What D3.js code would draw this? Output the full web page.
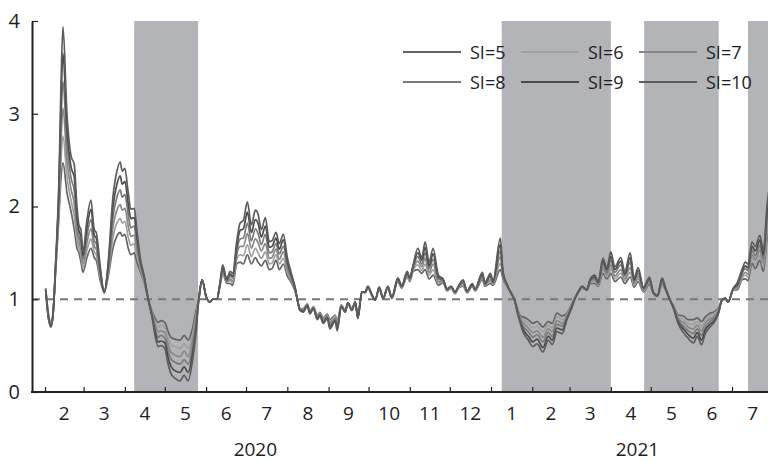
<!DOCTYPE html>
<html><head><meta charset="utf-8">
<script src="https://cdn.jsdelivr.net/npm/d3@7"></script>
<style>
body{margin:0;background:#fff}
svg text{font-family:"Open Sans",sans-serif;fill:#1e1e1e}
</style>
</head><body>
<svg id="chart" width="768" height="462"></svg>
<script>
// ---------------- data ----------------
const startDate = "2020-02-01";           // day 0 of dayOffset
const dayOffset = [
 0.5,2.5,4.5,6,8,10.5,12,13.5,16.5,19.5,
 22,24,25.5,27,28.5,31.5,34.5,37,38.5,41.5,
 44.5,47.5,51,54,56.5,58,60,62.5,64.5,67,
 69,71.5,74.5,77.5,80.5,82.5,85,87,90,92.5,
 94.5,97.5,101.5,104.5,107.5,110.5,113.5,115.5,118,121,
 124,126,129,131.5,133.5,136.5,139,141,144,146.5,
 149,152,155,158,160,162.5,165.5,168.5,170.5,173.5,
 176,179,182,185,188,190,191.5,194,197,199,
 201.5,204.5,206.5,209,212,214,218,219.5,222.5,225.5,
 227.5,230.5,233,235,238,240.5,242.5,245.5,248,251,
 254,257.5,260.5,265,268,272,274,276.5,280,283,
 285.5,288.5,291.5,295.5,299,302,305,308,310.5,314,
 317,321,323,328.5,330.5,334.5,336.5,342,344,347,
 351,352.5,354.5,357,359,363,366.5,369.5,374,378,
 381,384.5,388.5,392,396,398,400.5,403.5,407,409.5,
 413,415.5,419,422,425,428,432.5,435.5,439.5,442.5,
 445.5,449.5,454,457,460,463.5,466,469.5,472,475.5,
 479.5,483,487,490,493,496,499.5,502,505.5,508.5,
 511,513,517,520,523.5,526,528,531,533.5,537,539.5,542.5,544
];
const si5 = [
 1.12,0.85,0.75,0.85,1.30,1.90,2.30,2.47,2.15,1.95,
 1.75,1.55,1.50,1.40,1.29,1.45,1.55,1.45,1.42,1.20,
 1.08,1.25,1.55,1.68,1.72,1.68,1.70,1.55,1.48,1.50,
 1.40,1.30,1.18,1.00,0.87,0.80,0.75,0.77,0.75,0.65,
 0.59,0.57,0.56,0.61,0.56,0.67,0.88,1.00,1.21,1.03,
 0.97,1.00,1.00,1.15,1.28,1.17,1.17,1.15,1.38,1.40,
 1.38,1.48,1.38,1.45,1.40,1.36,1.42,1.32,1.33,1.42,
 1.32,1.38,1.25,1.18,1.08,0.97,0.90,0.90,0.95,0.87,
 0.92,0.83,0.86,0.80,0.84,0.78,0.83,0.76,0.94,0.88,
 0.96,0.90,0.97,0.82,1.08,1.07,1.12,1.04,0.99,1.11,
 1.01,1.12,1.01,1.19,1.12,1.24,1.19,1.30,1.32,1.28,
 1.32,1.22,1.26,1.15,1.18,1.09,1.12,1.06,1.12,1.14,
 1.07,1.14,1.09,1.21,1.14,1.17,1.15,1.32,1.22,1.14,
 1.05,1.00,0.92,0.82,0.81,0.78,0.74,0.76,0.70,0.76,
 0.74,0.85,0.82,0.85,0.96,1.01,1.07,1.12,1.10,1.17,
 1.17,1.14,1.28,1.22,1.28,1.19,1.24,1.17,1.24,1.13,
 1.19,1.08,1.16,1.06,1.03,1.16,1.10,0.99,0.93,0.83,
 0.82,0.78,0.78,0.80,0.76,0.81,0.85,0.86,0.90,0.99,
 1.01,0.97,1.10,1.10,1.21,1.22,1.20,1.39,1.33,1.42,1.30,1.67,1.78
];
const si6 = [
 1.12,0.84,0.74,0.84,1.32,1.98,2.50,2.76,2.32,2.07,
 1.89,1.64,1.56,1.47,1.34,1.53,1.65,1.51,1.48,1.23,
 1.08,1.28,1.66,1.82,1.87,1.82,1.84,1.67,1.58,1.60,
 1.47,1.33,1.19,1.00,0.86,0.76,0.70,0.72,0.69,0.58,
 0.51,0.49,0.47,0.52,0.47,0.60,0.83,1.00,1.21,1.03,
 0.97,1.00,1.00,1.16,1.30,1.18,1.20,1.18,1.43,1.48,
 1.47,1.59,1.46,1.55,1.50,1.44,1.51,1.38,1.39,1.48,
 1.38,1.44,1.29,1.20,1.09,0.97,0.90,0.89,0.95,0.86,
 0.92,0.82,0.85,0.79,0.83,0.76,0.82,0.74,0.94,0.88,
 0.96,0.90,0.97,0.81,1.08,1.07,1.12,1.04,0.99,1.11,
 1.01,1.12,1.01,1.20,1.13,1.25,1.20,1.31,1.37,1.31,
 1.38,1.26,1.32,1.17,1.19,1.09,1.12,1.06,1.12,1.15,
 1.07,1.15,1.09,1.23,1.15,1.19,1.16,1.39,1.24,1.14,
 1.05,1.00,0.91,0.80,0.78,0.74,0.69,0.71,0.65,0.72,
 0.69,0.81,0.78,0.84,0.95,1.01,1.07,1.12,1.10,1.18,
 1.19,1.15,1.31,1.24,1.33,1.22,1.28,1.20,1.29,1.15,
 1.22,1.09,1.18,1.06,1.03,1.17,1.11,0.99,0.92,0.81,
 0.78,0.74,0.73,0.76,0.71,0.77,0.82,0.84,0.89,0.99,
 1.01,0.97,1.10,1.12,1.23,1.26,1.24,1.44,1.38,1.47,1.35,1.74,1.86
];
const si7 = [
 1.11,0.83,0.73,0.84,1.34,2.06,2.70,3.06,2.49,2.19,
 2.03,1.73,1.62,1.54,1.38,1.61,1.76,1.57,1.54,1.26,
 1.08,1.31,1.77,1.96,2.02,1.96,1.98,1.79,1.68,1.69,
 1.54,1.36,1.21,1.00,0.84,0.73,0.65,0.66,0.64,0.51,
 0.43,0.40,0.38,0.44,0.38,0.53,0.79,1.00,1.21,1.03,
 0.97,1.00,1.00,1.16,1.32,1.19,1.22,1.20,1.48,1.57,
 1.57,1.71,1.55,1.65,1.61,1.52,1.60,1.44,1.45,1.54,
 1.43,1.51,1.33,1.22,1.10,0.97,0.89,0.88,0.94,0.86,
 0.91,0.81,0.84,0.78,0.82,0.74,0.80,0.72,0.93,0.87,
 0.96,0.89,0.97,0.81,1.08,1.07,1.13,1.04,0.99,1.12,
 1.01,1.13,1.01,1.21,1.13,1.26,1.21,1.33,1.41,1.35,
 1.44,1.29,1.38,1.19,1.20,1.10,1.13,1.07,1.13,1.17,
 1.08,1.15,1.10,1.24,1.16,1.21,1.17,1.46,1.25,1.15,
 1.05,1.00,0.90,0.79,0.75,0.69,0.64,0.66,0.59,0.68,
 0.65,0.77,0.74,0.82,0.94,1.01,1.07,1.13,1.10,1.19,
 1.21,1.16,1.34,1.27,1.37,1.25,1.32,1.22,1.34,1.17,
 1.25,1.10,1.19,1.06,1.03,1.19,1.11,0.99,0.92,0.79,
 0.75,0.70,0.68,0.72,0.66,0.74,0.79,0.81,0.87,0.99,
 1.01,0.97,1.11,1.13,1.25,1.29,1.27,1.48,1.43,1.53,1.39,1.82,1.95
];
const si8 = [
 1.11,0.82,0.72,0.83,1.36,2.14,2.90,3.35,2.66,2.31,
 2.17,1.82,1.68,1.61,1.43,1.69,1.86,1.63,1.60,1.29,
 1.07,1.34,1.88,2.10,2.18,2.10,2.13,1.91,1.77,1.79,
 1.61,1.39,1.22,1.00,0.83,0.69,0.59,0.61,0.58,0.44,
 0.36,0.32,0.30,0.35,0.30,0.45,0.74,1.00,1.21,1.03,
 0.97,1.00,1.00,1.17,1.33,1.20,1.25,1.23,1.52,1.65,
 1.66,1.82,1.63,1.76,1.71,1.59,1.70,1.50,1.51,1.60,
 1.49,1.57,1.37,1.24,1.10,0.96,0.89,0.88,0.94,0.85,
 0.91,0.80,0.84,0.76,0.81,0.72,0.79,0.70,0.93,0.87,
 0.96,0.89,0.97,0.80,1.08,1.08,1.13,1.05,0.99,1.12,
 1.01,1.13,1.02,1.21,1.14,1.28,1.22,1.34,1.46,1.38,
 1.50,1.33,1.43,1.22,1.20,1.10,1.13,1.07,1.13,1.18,
 1.08,1.16,1.10,1.26,1.16,1.24,1.18,1.52,1.27,1.15,
 1.04,1.00,0.89,0.77,0.71,0.65,0.59,0.62,0.54,0.64,
 0.60,0.73,0.71,0.81,0.94,1.01,1.08,1.13,1.10,1.20,
 1.22,1.17,1.38,1.29,1.42,1.29,1.37,1.25,1.40,1.19,
 1.28,1.11,1.21,1.07,1.04,1.20,1.12,0.99,0.91,0.78,
 0.71,0.66,0.63,0.68,0.61,0.70,0.76,0.79,0.86,0.99,
 1.01,0.97,1.11,1.15,1.28,1.33,1.31,1.53,1.47,1.58,1.44,1.89,2.03
];
const si9 = [
 1.10,0.81,0.71,0.83,1.38,2.22,3.10,3.65,2.83,2.43,
 2.31,1.91,1.74,1.68,1.47,1.77,1.97,1.69,1.66,1.32,
 1.07,1.37,1.99,2.24,2.33,2.24,2.27,2.03,1.87,1.88,
 1.68,1.42,1.24,1.00,0.81,0.66,0.54,0.55,0.53,0.37,
 0.28,0.23,0.21,0.27,0.21,0.38,0.70,1.00,1.21,1.03,
 0.97,1.00,1.00,1.17,1.35,1.21,1.27,1.25,1.57,1.74,
 1.76,1.94,1.72,1.86,1.82,1.67,1.79,1.56,1.57,1.66,
 1.54,1.64,1.41,1.26,1.11,0.96,0.88,0.87,0.93,0.85,
 0.90,0.79,0.83,0.75,0.80,0.70,0.77,0.68,0.92,0.86,
 0.96,0.88,0.97,0.80,1.08,1.08,1.14,1.05,0.99,1.13,
 1.01,1.14,1.02,1.22,1.14,1.29,1.23,1.36,1.50,1.42,
 1.56,1.36,1.49,1.24,1.21,1.11,1.14,1.08,1.14,1.20,
 1.09,1.16,1.11,1.27,1.17,1.26,1.19,1.59,1.28,1.16,
 1.04,1.00,0.88,0.76,0.68,0.60,0.54,0.57,0.48,0.60,
 0.56,0.69,0.67,0.79,0.93,1.01,1.08,1.14,1.10,1.21,
 1.24,1.18,1.41,1.32,1.46,1.32,1.41,1.27,1.45,1.21,
 1.31,1.12,1.22,1.07,1.04,1.22,1.12,0.99,0.91,0.76,
 0.68,0.62,0.58,0.64,0.56,0.67,0.73,0.76,0.84,0.99,
 1.01,0.97,1.12,1.16,1.30,1.36,1.34,1.57,1.52,1.64,1.48,1.97,2.12
];
const si10 = [
 1.10,0.80,0.70,0.82,1.40,2.30,3.30,3.94,3.00,2.55,
 2.45,2.00,1.80,1.75,1.52,1.85,2.07,1.75,1.72,1.35,
 1.07,1.40,2.10,2.38,2.48,2.38,2.41,2.15,1.97,1.98,
 1.75,1.45,1.25,1.00,0.80,0.62,0.49,0.50,0.47,0.30,
 0.20,0.15,0.12,0.18,0.12,0.31,0.65,1.00,1.21,1.03,
 0.97,1.00,1.00,1.18,1.37,1.22,1.30,1.28,1.62,1.82,
 1.85,2.05,1.80,1.96,1.92,1.75,1.88,1.62,1.63,1.72,
 1.60,1.70,1.45,1.28,1.12,0.96,0.88,0.86,0.93,0.84,
 0.90,0.78,0.82,0.74,0.79,0.68,0.76,0.66,0.92,0.86,
 0.96,0.88,0.97,0.79,1.08,1.08,1.14,1.05,0.99,1.13,
 1.01,1.14,1.02,1.23,1.15,1.30,1.24,1.37,1.55,1.45,
 1.62,1.40,1.55,1.26,1.22,1.11,1.14,1.08,1.14,1.21,
 1.09,1.17,1.11,1.29,1.18,1.28,1.20,1.66,1.30,1.16,
 1.04,1.00,0.87,0.74,0.65,0.56,0.49,0.52,0.43,0.56,
 0.51,0.65,0.63,0.78,0.92,1.01,1.08,1.14,1.10,1.22,
 1.26,1.19,1.44,1.34,1.51,1.35,1.45,1.30,1.50,1.23,
 1.34,1.13,1.24,1.07,1.04,1.23,1.13,0.99,0.90,0.74,
 0.64,0.58,0.53,0.60,0.51,0.63,0.70,0.74,0.83,0.99,
 1.01,0.97,1.12,1.18,1.32,1.40,1.38,1.62,1.57,1.69,1.53,2.04,2.20
];
const seriesNames = ["SI=5","SI=6","SI=7","SI=8","SI=9","SI=10"];
const seriesColors = ["#636363","#a0a0a0","#888888","#7a7a7a","#4b4b4b","#5c5c5c"];
const monthStarts = ["2020-02-01","2020-03-01","2020-04-01","2020-05-01","2020-06-01","2020-07-01",
  "2020-08-01","2020-09-01","2020-10-01","2020-11-01","2020-12-01","2021-01-01",
  "2021-02-01","2021-03-01","2021-04-01","2021-05-01","2021-06-01","2021-07-01"];
const monthLabels = ["2","3","4","5","6","7","8","9","10","11","12","1","2","3","4","5","6","7"];
const yearLabels = ["2020","2021"];
const yearLabelDates = ["2020-07-08","2021-04-21"];
const yTicks = [0,1,2,3,4];
const shadePeriods = [["2020-04-08","2020-05-26"],["2021-01-09","2021-04-01"],
  ["2021-04-26","2021-06-21"],["2021-07-13","2021-09-01"]];

// ---------------- chart ----------------
const svg = d3.select("#chart");
const parse = d3.utcParse("%Y-%m-%d");
const plotLeft = 32, plotRight = 768, plotTop = 21, plotBottom = 392;
const x = d3.scaleUtc().domain([parse("2020-02-01"), parse("2021-07-01")]).range([45, 732]);
const y = d3.scaleLinear().domain([0, 4]).range([plotBottom, plotTop]);
const t0 = parse(startDate).getTime();
const dates = dayOffset.map(d => new Date(t0 + d * 864e5));
const allSeries = [si5, si6, si7, si8, si9, si10];

svg.append("defs").append("clipPath").attr("id","clip")
  .append("rect").attr("x",plotLeft).attr("y",0).attr("width",plotRight-plotLeft).attr("height",plotBottom);

const plot = svg.append("g").attr("clip-path","url(#clip)");
plot.selectAll("rect.shade").data(shadePeriods).join("rect")
  .attr("class","shade")
  .attr("x", d => x(parse(d[0])))
  .attr("width", d => x(parse(d[1])) - x(parse(d[0])))
  .attr("y", y(4)).attr("height", y(0) - y(4))
  .attr("fill", "#b3b4b7");

plot.append("line").attr("x1", plotLeft).attr("x2", plotRight)
  .attr("y1", y(1)).attr("y2", y(1))
  .attr("stroke", "#777777").attr("stroke-width", 2.2).attr("stroke-dasharray", "8,6");

const line = d3.line().x((d,i) => x(dates[i])).y(d => y(d)).curve(d3.curveMonotoneX);
plot.selectAll("path.series").data(allSeries).join("path")
  .attr("class","series")
  .attr("d", d => line(d))
  .attr("fill","none")
  .attr("stroke", (d,i) => seriesColors[i])
  .attr("stroke-width", 1.7)
  .attr("stroke-linejoin","round");

// y axis
const yAxis = svg.append("g").attr("transform", `translate(${plotLeft},0)`)
  .call(d3.axisLeft(y).tickValues(yTicks).tickFormat(d3.format("d")).tickSize(-6).tickSizeOuter(0).tickPadding(12));
yAxis.select(".domain").attr("stroke","#222").attr("stroke-width",2);
yAxis.selectAll(".tick line").attr("stroke","#222").attr("stroke-width",1.2);
yAxis.selectAll(".tick text").attr("font-size",20).attr("font-family","Open Sans").attr("fill","#1e1e1e");

// x axis
const xAxis = svg.append("g").attr("transform", `translate(0,${plotBottom})`)
  .call(d3.axisBottom(x).tickValues(monthStarts.map(parse)).tickSize(-5).tickFormat(""));
xAxis.select(".domain").remove();
xAxis.selectAll(".tick line").attr("stroke","#222").attr("stroke-width",1.2);
svg.append("line").attr("x1", plotLeft-1).attr("x2", plotRight).attr("y1", plotBottom).attr("y2", plotBottom)
  .attr("stroke","#222").attr("stroke-width",2);

svg.selectAll("text.month").data(monthLabels).join("text")
  .attr("class","month")
  .attr("x", (d,i) => {
    const s = parse(monthStarts[i]);
    const e = d3.utcMonth.offset(s, 1);
    return (x(s) + x(e)) / 2;
  })
  .attr("y", 413).attr("text-anchor","middle").attr("dominant-baseline","central")
  .attr("font-size",19).text(d => d);

svg.selectAll("text.year").data(yearLabels).join("text")
  .attr("class","year")
  .attr("x", (d,i) => x(parse(yearLabelDates[i])))
  .attr("y", 449).attr("text-anchor","middle").attr("dominant-baseline","central")
  .attr("font-size",19).text(d => d);

// legend
const lg = svg.append("g");
seriesNames.forEach((name, i) => {
  const col = i % 3, row = Math.floor(i / 3);
  const gx = 403 + col * 118, gy = 52 + row * 30;
  lg.append("line").attr("x1", gx).attr("x2", gx + 58).attr("y1", gy).attr("y2", gy)
    .attr("stroke", seriesColors[i]).attr("stroke-width", 1.8);
  lg.append("text").attr("x", gx + 67).attr("y", gy).attr("dominant-baseline","central")
    .attr("font-size", 18).text(name);
});
</script>
</body></html>
